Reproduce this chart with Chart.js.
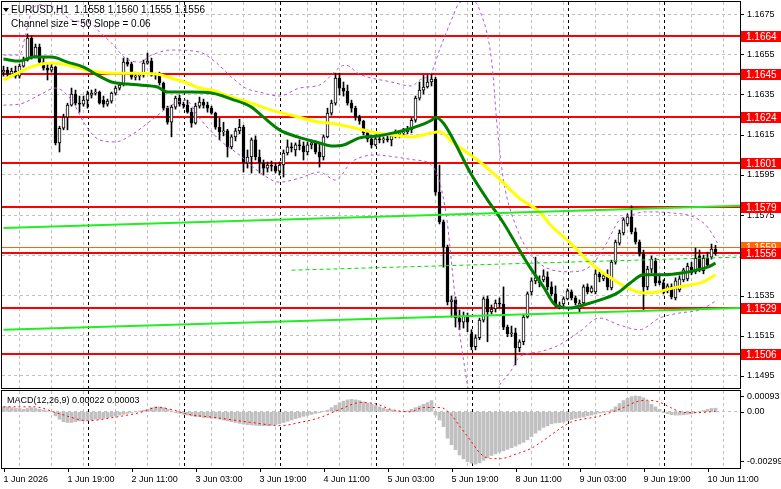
<!DOCTYPE html>
<html>
<head>
<meta charset="utf-8">
<script src="https://cdn.jsdelivr.net/npm/chart.js@4.4.1/dist/chart.umd.min.js"></script>
<style>
html, body { margin: 0; padding: 0; background: #fff; }
#wrap { position: relative; width: 781px; height: 489px; overflow: hidden; }
#main { position: absolute; left: 0; top: 0; }
#macd { position: absolute; left: 0; top: 389px; }
</style>
</head>
<body>
<div id="wrap">
  <canvas id="main" width="781" height="390"></canvas>
  <canvas id="macd" width="781" height="100"></canvas>
</div>
<script>
// EURUSD H1, bars from 1 Jun 03:00 to 10 Jun 13:00 (index = bar number)
var openP = [
  1.16461,1.16471,1.16451,1.16466,1.16441,1.16491,1.16521,1.16631,1.16541,1.16586,
  1.16511,1.16481,1.16471,1.16486,1.16109,1.16182,1.16237,1.16297,1.16352,1.16307,
  1.16302,1.16322,1.16347,1.16357,1.16362,1.16322,1.16302,1.16317,1.16357,1.16382,
  1.16397,1.16511,1.16501,1.16436,1.16441,1.16446,1.16506,1.16516,1.16446,1.16451,
  1.16407,1.16282,1.16212,1.16287,1.16332,1.16302,1.16297,1.16262,1.16207,1.16292,
  1.16312,1.16297,1.16282,1.16257,1.16187,1.16164,1.16169,1.16089,1.16139,1.16169,
  1.16187,1.16009,1.16039,1.16124,1.16039,1.16009,1.15984,1.15999,1.15994,1.15969,
  1.15999,1.16059,1.16089,1.16074,1.16099,1.16094,1.16064,1.16099,1.16109,1.16064,
  1.16039,1.16139,1.16257,1.16307,1.16431,1.16382,1.16367,1.16307,1.16282,1.16237,
  1.16217,1.16159,1.16129,1.16099,1.16129,1.16124,1.16129,1.16124,1.16144,1.16154,
  1.16159,1.16164,1.16174,1.16222,1.16332,1.16372,1.16387,1.16412,1.16426,1.15864,
  1.15716,1.15591,1.15318,1.15328,1.15238,1.15218,1.15248,1.15160,1.15095,1.15140,
  1.15228,1.15333,1.15268,1.15283,1.15313,1.15308,1.15193,1.15160,1.15165,1.15090,
  1.15120,1.15243,1.15368,1.15423,1.15413,1.15428,1.15443,1.15393,1.15358,1.15293,
  1.15308,1.15333,1.15368,1.15338,1.15283,1.15313,1.15393,1.15368,1.15368,1.15458,
  1.15433,1.15448,1.15388,1.15516,1.15611,1.15661,1.15706,1.15741,1.15666,1.15616,
  1.15556,1.15393,1.15481,1.15521,1.15423,1.15413,1.15373,1.15393,1.15338,1.15378,
  1.15428,1.15433,1.15491,1.15468,1.15546,1.15473,1.15536,1.15541,1.15580
];
var highP = [
  1.16491,1.16486,1.16481,1.16491,1.16501,1.16536,1.16651,1.16641,1.16601,1.16601,
  1.16531,1.16501,1.16506,1.16491,1.16192,1.16252,1.16307,1.16382,1.16372,1.16342,
  1.16342,1.16367,1.16372,1.16377,1.16367,1.16342,1.16327,1.16362,1.16392,1.16407,
  1.16531,1.16531,1.16511,1.16461,1.16456,1.16521,1.16556,1.16531,1.16456,1.16461,
  1.16412,1.16292,1.16297,1.16342,1.16347,1.16312,1.16322,1.16282,1.16307,1.16337,
  1.16327,1.16312,1.16292,1.16262,1.16232,1.16212,1.16177,1.16149,1.16182,1.16227,
  1.16197,1.16074,1.16134,1.16144,1.16074,1.16024,1.16014,1.16019,1.16009,1.16014,
  1.16074,1.16124,1.16109,1.16109,1.16124,1.16114,1.16114,1.16124,1.16119,1.16109,
  1.16149,1.16282,1.16322,1.16456,1.16456,1.16412,1.16397,1.16322,1.16292,1.16247,
  1.16222,1.16174,1.16144,1.16144,1.16144,1.16139,1.16154,1.16159,1.16174,1.16169,
  1.16182,1.16192,1.16232,1.16342,1.16412,1.16446,1.16446,1.16451,1.16436,1.15999,
  1.15726,1.15601,1.15348,1.15343,1.15278,1.15268,1.15263,1.15180,1.15155,1.15238,
  1.15343,1.15348,1.15303,1.15328,1.15338,1.15393,1.15203,1.15198,1.15188,1.15130,
  1.15253,1.15368,1.15438,1.15541,1.15448,1.15478,1.15468,1.15418,1.15398,1.15318,
  1.15343,1.15383,1.15378,1.15348,1.15328,1.15403,1.15408,1.15398,1.15478,1.15468,
  1.15458,1.15478,1.15526,1.15626,1.15676,1.15736,1.15756,1.15796,1.15686,1.15626,
  1.15576,1.15496,1.15546,1.15536,1.15448,1.15428,1.15408,1.15408,1.15438,1.15448,
  1.15486,1.15511,1.15516,1.15586,1.15576,1.15551,1.15566,1.15606,1.15600
];
var lowP = [
  1.16441,1.16436,1.16441,1.16431,1.16431,1.16486,1.16516,1.16526,1.16536,1.16501,
  1.16471,1.16422,1.16461,1.16099,1.16064,1.16174,1.16174,1.16292,1.16297,1.16262,
  1.16292,1.16282,1.16332,1.16347,1.16302,1.16287,1.16292,1.16307,1.16347,1.16372,
  1.16392,1.16491,1.16426,1.16422,1.16422,1.16436,1.16501,1.16441,1.16426,1.16397,
  1.16272,1.16202,1.16139,1.16277,1.16292,1.16282,1.16257,1.16187,1.16202,1.16282,
  1.16282,1.16262,1.16252,1.16177,1.16124,1.16144,1.16039,1.16079,1.16119,1.16154,
  1.15964,1.15984,1.15959,1.16024,1.15959,1.15949,1.15964,1.15969,1.15959,1.15949,
  1.15939,1.16049,1.16064,1.16044,1.16074,1.16024,1.16049,1.16079,1.16054,1.15989,
  1.16024,1.16134,1.16247,1.16297,1.16347,1.16342,1.16297,1.16262,1.16222,1.16202,
  1.16149,1.16114,1.16084,1.16094,1.16109,1.16109,1.16114,1.16094,1.16134,1.16134,
  1.16149,1.16154,1.16159,1.16212,1.16322,1.16352,1.16382,1.16392,1.15849,1.15706,
  1.15491,1.15303,1.15243,1.15193,1.15180,1.15188,1.15170,1.15080,1.15080,1.15130,
  1.15218,1.15120,1.15258,1.15268,1.15288,1.15180,1.15145,1.15145,1.15005,1.15070,
  1.15105,1.15238,1.15353,1.15408,1.15393,1.15418,1.15378,1.15348,1.15293,1.15283,
  1.15298,1.15328,1.15328,1.15303,1.15268,1.15298,1.15358,1.15363,1.15358,1.15418,
  1.15423,1.15378,1.15378,1.15506,1.15601,1.15651,1.15696,1.15656,1.15606,1.15546,
  1.15278,1.15378,1.15463,1.15398,1.15403,1.15358,1.15363,1.15333,1.15328,1.15368,
  1.15418,1.15423,1.15453,1.15458,1.15468,1.15458,1.15491,1.15531,1.15550
];
var closeP = [
  1.16471,1.16451,1.16466,1.16441,1.16491,1.16521,1.16631,1.16541,1.16586,1.16511,
  1.16481,1.16471,1.16486,1.16109,1.16182,1.16237,1.16297,1.16352,1.16307,1.16302,
  1.16322,1.16352,1.16357,1.16362,1.16307,1.16302,1.16317,1.16357,1.16382,1.16397,
  1.16511,1.16501,1.16436,1.16441,1.16446,1.16506,1.16516,1.16446,1.16451,1.16407,
  1.16282,1.16212,1.16287,1.16332,1.16302,1.16297,1.16262,1.16207,1.16292,1.16312,
  1.16297,1.16282,1.16257,1.16187,1.16164,1.16169,1.16089,1.16139,1.16169,1.16187,
  1.16009,1.16039,1.16124,1.16039,1.16009,1.15984,1.15999,1.15994,1.15969,1.15999,
  1.16059,1.16089,1.16084,1.16099,1.16094,1.16064,1.16099,1.16109,1.16064,1.16039,
  1.16139,1.16257,1.16307,1.16431,1.16382,1.16367,1.16307,1.16282,1.16237,1.16217,
  1.16159,1.16129,1.16099,1.16129,1.16124,1.16129,1.16124,1.16144,1.16154,1.16159,
  1.16164,1.16174,1.16222,1.16332,1.16372,1.16387,1.16412,1.16426,1.15864,1.15716,
  1.15591,1.15318,1.15328,1.15238,1.15218,1.15248,1.15218,1.15095,1.15140,1.15228,
  1.15333,1.15268,1.15283,1.15313,1.15308,1.15193,1.15160,1.15165,1.15090,1.15120,
  1.15243,1.15358,1.15423,1.15438,1.15428,1.15448,1.15393,1.15358,1.15303,1.15303,
  1.15333,1.15373,1.15338,1.15313,1.15313,1.15393,1.15368,1.15388,1.15458,1.15443,
  1.15448,1.15393,1.15516,1.15616,1.15661,1.15726,1.15741,1.15666,1.15616,1.15556,
  1.15393,1.15481,1.15531,1.15413,1.15413,1.15368,1.15398,1.15343,1.15423,1.15433,
  1.15478,1.15496,1.15463,1.15536,1.15478,1.15536,1.15501,1.15581,1.15560
];

// moving averages: [bar index, price]
var maGreen = [[0,1.16526],[4,1.16516],[7.5,1.16536],[12,1.16536],[16,1.16511],[20,1.16486],[23.5,1.16446],[27,1.16412],[31,1.16402],[34,1.16397],[38.5,1.16387],[41,1.16362],[44,1.16362],[47,1.16362],[52,1.16357],[57,1.16327],[62,1.16287],[65,1.16237],[69,1.16174],[73.5,1.16139],[79,1.16109],[82,1.16094],[85,1.16099],[89,1.16134],[93.5,1.16144],[97.5,1.16159],[102,1.16182],[107,1.16222],[108,1.16237],[110,1.16207],[112.5,1.16124],[116.75,1.15959],[121,1.15826],[125,1.15711],[129,1.15576],[131.75,1.15486],[135,1.15393],[138,1.15303],[141.75,1.15288],[145,1.15303],[149.25,1.15328],[153.5,1.15363],[156.75,1.15413],[160,1.15453],[165,1.15453],[170,1.15463],[173.5,1.15478],[176,1.15491],[178,1.15511]];
var maYellow = [[0,1.16422],[3.5,1.16456],[7.5,1.16491],[12,1.16506],[16,1.16496],[21,1.16471],[27,1.16456],[32.5,1.16456],[38.5,1.16451],[42,1.16431],[46,1.16407],[49,1.16382],[52,1.16372],[57,1.16337],[62,1.16307],[67,1.16272],[72,1.16247],[79,1.16212],[82,1.16207],[87,1.16187],[92,1.16164],[97,1.16149],[102,1.16139],[107,1.16159],[109,1.16164],[112.5,1.16109],[116.75,1.16049],[121,1.15984],[125,1.15909],[129,1.15834],[134,1.15766],[136.75,1.15701],[141.75,1.15611],[146.75,1.15511],[151.75,1.15438],[156,1.15388],[160,1.15363],[163.5,1.15368],[167.5,1.15388],[171.75,1.15403],[175,1.15418],[178,1.15453]];
var bandUpper = [[0,1.16546],[4,1.16546],[5.5,1.16646],[7,1.16761],[9,1.16796],[13,1.16781],[17,1.16721],[22,1.16701],[24,1.16661],[27,1.16606],[30.5,1.16531],[34,1.16511],[37,1.16546],[42,1.16571],[49,1.16561],[53,1.16511],[57,1.16436],[60.5,1.16382],[64,1.16362],[69,1.16342],[74,1.16382],[79,1.16397],[85.5,1.16496],[89,1.16451],[97,1.16412],[102,1.16392],[104,1.16421],[107,1.16461],[109,1.16571],[112,1.16721],[114,1.16806],[117,1.16821],[119,1.16772],[122,1.16522],[123.5,1.16174],[125,1.15924],[128,1.15701],[132,1.15551],[137,1.15478],[142,1.15468],[147,1.15501],[150.5,1.15601],[154,1.15726],[157,1.15751],[160.5,1.15766],[167,1.15761],[172.5,1.15741],[176,1.15691],[178.5,1.15611]];
var bandLower = [[0,1.16297],[4,1.16302],[9,1.16347],[13,1.16382],[17,1.16322],[20.5,1.16197],[24,1.16124],[28,1.16114],[32,1.16149],[37,1.16222],[42,1.16297],[45.5,1.16322],[49,1.16232],[54,1.16124],[59,1.16049],[64,1.15964],[69,1.15914],[74,1.15934],[79,1.15964],[83,1.15924],[87,1.16014],[93,1.16049],[98,1.16039],[103,1.16024],[107,1.15999],[110.5,1.15776],[113,1.15328],[115,1.15030],[117,1.14830],[120.5,1.14805],[124,1.14905],[127,1.14980],[129,1.15045],[134,1.15070],[139,1.15105],[144,1.15170],[149,1.15238],[154,1.15203],[159,1.15180],[164,1.15238],[169,1.15263],[174,1.15278],[178.5,1.15328]];
var chanUpper = [[0,1.15686],[184.2,1.15796]];
var chanLower = [[0,1.15180],[184.2,1.15288]];
var chanMid = [[72,1.15476],[184.2,1.15541]];

// MACD(12,26,9), histogram in units of 0.00001
var macdHist = [
  30,30,25,20,20, 15,20,25,20,15,10,5,0,
  -25,-45,-60,-65,-65,-60,-55,-55,
  -50,-50,-45,-45,-40,-35,-30,-25,-20,-15,
  -10,-5,0,5,10,15, 25,30,30,25,15, 5,-5,-10,-15,-20,
  -25,-30,-30,-35,-35,-40,-40,-45,
  -50,-55,-60,-65,-70,-75,-78,-80,-82,-84,-85,-85,-82,-78,-72,
  -65,-58,-50,-42,-35,-28,-22,-16,-10,-5,
  0,10,25,40,55,65,72, 75,72,68,60,52,45,38,30,22,15,
  10,5,0,0,5, 15,25,35,45,55,68,-20,
  -50,-90,-160,-200,-230,-262,-285,-302,-312,-318,
  -310,-295,-280,-265,-255,-245,-237,-228,-218,-208,-196,-185,-170,-150,-130,-112,-95,-85,-73,-68,-66,-62,-55,-47,-40,-35,-32,-25,-20,-14,-8,-4,2,
  12,30,50,68,82,92,96,94,85,65,45,30,15,
  -5,-12,-18,-20,-20,-18,-15,-12,-5,0,
  8,15,20,22
];
var macdSignal = [[0,30],[7.6,30],[14.25,-14],[21,-54],[27.6,-34],[34.25,-4],[38.4,26],[42.6,10],[45.9,-14],[52.6,-34],[61.75,-64],[69.25,-84],[74.25,-64],[79.25,-34],[84.25,16],[89.25,56],[93.4,46],[96.75,15],[101.75,0],[105,26],[109.25,26],[111.75,-14],[114.25,-94],[116.75,-174],[119.25,-254],[121.75,-284],[124.25,-284],[128.4,-254],[131.75,-224],[135,-174],[138.4,-114],[141.75,-64],[145,-44],[148.4,-30],[151.75,-4],[155,26],[158.4,62],[160.9,70],[164.25,56],[166.75,26],[169.25,0],[172.6,-6],[176.75,0],[178,3]];

var timeTickIdx = [0,16,32,48,64,80,96,112,128,144,160,176];
var timeTickText = ['1 Jun 2026','1 Jun 19:00','2 Jun 11:00','3 Jun 03:00','3 Jun 19:00','4 Jun 11:00','5 Jun 03:00','5 Jun 19:00','8 Jun 11:00','9 Jun 03:00','9 Jun 19:00','10 Jun 11:00'];
var daySeparators = [21,45,69,93,117,141,165];
var priceTicks = [1.1675,1.1655,1.1635,1.1615,1.1595,1.1575,1.1555,1.1535,1.1515,1.1495];
var levels = [1.1664,1.1645,1.1624,1.1601,1.1579,1.1556,1.1529,1.1506];
var bidPrice = 1.1559;
var macdTicks = [93, 0, -299];
var macdTickText = ['0.00093', '0.00', '-0.00299'];

var xMin = -0.375, xMax = 184.125;
var gridIdx = [];
for (var g = 8; g <= 176; g += 8) gridIdx.push(g);
var axisFont = { family: '"Liberation Sans", Arial, sans-serif', size: 9 };

function pts(arr) { return arr.map(function (p) { return { x: p[0], y: p[1] }; }); }

var idx = closeP.map(function (_, i) { return i; });
var wickData = idx.map(function (i) { return { x: i, y: [lowP[i], highP[i]] }; });
var bodyData = idx.map(function (i) { return { x: i, y: [openP[i], closeP[i]] }; });
var bodyColors = idx.map(function (i) { return closeP[i] >= openP[i] ? '#ffffff' : '#000000'; });

function lineSet(data, color, width, dash, order) {
    return { type: 'line', data: pts(data), borderColor: color, borderWidth: width,
        borderDash: dash || [], pointRadius: 0, tension: 0.4, cubicInterpolationMode: 'monotone', order: order };
}

var mainPlugin = {
    id: 'mainDecor',
    beforeDatasetsDraw: function (chart) {
        var ctx = chart.ctx, a = chart.chartArea, x = chart.scales.x, y = chart.scales.y;
        ctx.save();
        ctx.strokeStyle = '#000'; ctx.lineWidth = 1; ctx.setLineDash([3, 3]);
        daySeparators.forEach(function (i) {
            var px = Math.round(x.getPixelForValue(i)) + 0.5;
            ctx.beginPath(); ctx.moveTo(px, a.top); ctx.lineTo(px, a.bottom); ctx.stroke();
        });
        ctx.setLineDash([]);
        ctx.strokeStyle = '#ff0000'; ctx.lineWidth = 2;
        levels.forEach(function (v) {
            var py = Math.round(y.getPixelForValue(v));
            ctx.beginPath(); ctx.moveTo(a.left, py); ctx.lineTo(a.right, py); ctx.stroke();
        });
        ctx.strokeStyle = '#ff6a00'; ctx.lineWidth = 1;
        var by = Math.round(y.getPixelForValue(bidPrice)) + 0.5;
        ctx.beginPath(); ctx.moveTo(a.left, by); ctx.lineTo(a.right, by); ctx.stroke();
        ctx.restore();
    },
    afterDraw: function (chart) {
        var ctx = chart.ctx, a = chart.chartArea, y = chart.scales.y;
        ctx.save();
        ctx.strokeStyle = '#000'; ctx.lineWidth = 1;
        ctx.strokeRect(a.left - 0.5, a.top - 0.5, a.right - a.left + 1, a.bottom - a.top + 1);
        priceTicks.forEach(function (v) {
            var py = Math.round(y.getPixelForValue(v)) + 0.5;
            ctx.beginPath(); ctx.moveTo(a.right, py); ctx.lineTo(a.right + 4, py); ctx.stroke();
        });
        ctx.font = '10px "Liberation Sans", Arial, sans-serif';
        ctx.textBaseline = 'middle';
        function box(v, color) {
            var py = Math.round(y.getPixelForValue(v));
            ctx.fillStyle = color; ctx.fillRect(a.right + 1, py - 5, 40, 11);
            ctx.fillStyle = '#fff'; ctx.fillText(v.toFixed(4), a.right + 6, py + 1);
        }
        box(bidPrice, '#ff6a00');
        levels.forEach(function (v) { box(v, '#ff0000'); });
        ctx.fillStyle = '#000';
        ctx.beginPath(); ctx.moveTo(3, 8); ctx.lineTo(9, 8); ctx.lineTo(6, 12); ctx.closePath(); ctx.fill();
        ctx.font = '10px "Liberation Sans", Arial, sans-serif';
        ctx.textBaseline = 'alphabetic';
        ctx.fillText('EURUSD,H1  1.1558 1.1560 1.1555 1.1556', 11, 13);
        ctx.fillText('Channel size = 50 Slope = 0.06', 11, 27);
        ctx.restore();
    }
};

new Chart(document.getElementById('main'), {
    type: 'bar',
    data: {
        datasets: [
            lineSet(chanUpper, '#22ee22', 2, null, 1),
            lineSet(chanLower, '#22ee22', 2, null, 1),
            lineSet(chanMid, '#00e000', 1, [4, 3], 1),
            lineSet(maGreen, '#008000', 3, null, 2),
            lineSet(maYellow, '#ffff00', 3, null, 3),
            lineSet(bandUpper, '#b455d8', 1, [3, 3], 4),
            lineSet(bandLower, '#b455d8', 1, [3, 3], 4),
            { type: 'bar', data: bodyData, backgroundColor: bodyColors, borderColor: '#000', borderWidth: 1,
              borderSkipped: false, barThickness: 3, minBarLength: 1, grouped: false, order: 5 },
            { type: 'bar', data: wickData, backgroundColor: '#000', borderWidth: 0,
              barThickness: 1, grouped: false, order: 6 }
        ]
    },
    options: {
        responsive: false, animation: false, events: [], devicePixelRatio: 1,
        layout: { padding: { left: 2, top: 2, right: 0, bottom: 2 } },
        plugins: { legend: { display: false }, tooltip: { enabled: false } },
        scales: {
            x: {
                type: 'linear', min: xMin, max: xMax, offset: false,
                afterBuildTicks: function (s) { s.ticks = gridIdx.map(function (v) { return { value: v }; }); },
                ticks: { display: false },
                grid: { color: '#c0c0c0', drawTicks: false },
                border: { display: false, dash: [3, 3] },
                afterFit: function (s) { s.height = 0; s.paddingLeft = 0; s.paddingRight = 0; }
            },
            y: {
                type: 'linear', position: 'right', min: 1.1489, max: 1.1681,
                afterBuildTicks: function (s) { s.ticks = priceTicks.map(function (v) { return { value: v }; }); },
                ticks: { callback: function (v) { return v.toFixed(4); }, font: axisFont, color: '#000', padding: 7 },
                grid: { color: '#c0c0c0', drawTicks: false },
                border: { display: false, dash: [3, 3] },
                afterFit: function (s) { s.width = 41; s.paddingTop = 0; s.paddingBottom = 0; }
            }
        }
    },
    plugins: [mainPlugin]
});

var macdPlugin = {
    id: 'macdDecor',
    beforeDatasetsDraw: function (chart) {
        var ctx = chart.ctx, a = chart.chartArea, x = chart.scales.x;
        ctx.save();
        ctx.strokeStyle = '#000'; ctx.lineWidth = 1; ctx.setLineDash([3, 3]);
        daySeparators.forEach(function (i) {
            var px = Math.round(x.getPixelForValue(i)) + 0.5;
            ctx.beginPath(); ctx.moveTo(px, a.top); ctx.lineTo(px, a.bottom); ctx.stroke();
        });
        ctx.restore();
    },
    afterDraw: function (chart) {
        var ctx = chart.ctx, a = chart.chartArea, x = chart.scales.x, y = chart.scales.y;
        ctx.save();
        ctx.strokeStyle = '#000'; ctx.lineWidth = 1;
        ctx.strokeRect(a.left - 0.5, a.top - 0.5, a.right - a.left + 1, a.bottom - a.top + 1);
        timeTickIdx.forEach(function (i) {
            var px = Math.round(x.getPixelForValue(i)) + 0.5;
            ctx.beginPath(); ctx.moveTo(px, a.bottom); ctx.lineTo(px, a.bottom + 4); ctx.stroke();
        });
        macdTicks.forEach(function (v) {
            var py = Math.round(y.getPixelForValue(v)) + 0.5;
            ctx.beginPath(); ctx.moveTo(a.right, py); ctx.lineTo(a.right + 4, py); ctx.stroke();
        });
        ctx.fillStyle = '#000';
        ctx.font = '9px "Liberation Sans", Arial, sans-serif';
        ctx.fillText('MACD(12,26,9) 0.00022 0.00003', 7, 14);
        ctx.restore();
    }
};

new Chart(document.getElementById('macd'), {
    type: 'bar',
    data: {
        datasets: [
            { type: 'line', data: pts(macdSignal), borderColor: '#ff0000', borderWidth: 1, borderDash: [2, 3],
              pointRadius: 0, tension: 0.4, cubicInterpolationMode: 'monotone', order: 1 },
            { type: 'bar', data: macdHist.map(function (v, i) { return { x: i, y: v }; }), backgroundColor: '#c0c0c0',
              borderWidth: 0, barThickness: 3, grouped: false, order: 2 }
        ]
    },
    options: {
        responsive: false, animation: false, events: [], devicePixelRatio: 1,
        layout: { padding: { left: 2, top: 2, right: 0, bottom: 0 } },
        plugins: { legend: { display: false }, tooltip: { enabled: false } },
        scales: {
            x: {
                type: 'linear', min: xMin, max: xMax, offset: false,
                afterBuildTicks: function (s) { s.ticks = [0].concat(gridIdx).map(function (v) { return { value: v }; }); },
                ticks: {
                    callback: function (v) { var k = timeTickIdx.indexOf(v); return k >= 0 ? timeTickText[k] : ''; },
                    align: 'start', maxRotation: 0, autoSkip: false, font: axisFont, color: '#000', padding: 6
                },
                grid: { color: function (c) { return c.tick && c.tick.value === 0 ? 'rgba(0,0,0,0)' : '#c0c0c0'; }, drawTicks: false },
                border: { display: false, dash: [3, 3] },
                afterFit: function (s) { s.height = 21; s.paddingLeft = 0; s.paddingRight = 0; }
            },
            y: {
                type: 'linear', position: 'right', min: -341, max: 126,
                afterBuildTicks: function (s) { s.ticks = macdTicks.map(function (v) { return { value: v }; }); },
                ticks: { callback: function (v) { return macdTickText[macdTicks.indexOf(v)]; }, font: axisFont, color: '#000', padding: 7 },
                grid: { color: function (c) { return c.tick && c.tick.value === 0 ? '#c0c0c0' : 'rgba(0,0,0,0)'; }, drawTicks: false },
                border: { display: false, dash: [3, 3] },
                afterFit: function (s) { s.width = 41; s.paddingTop = 0; s.paddingBottom = 0; }
            }
        }
    },
    plugins: [macdPlugin]
});
</script>
</body>
</html>
